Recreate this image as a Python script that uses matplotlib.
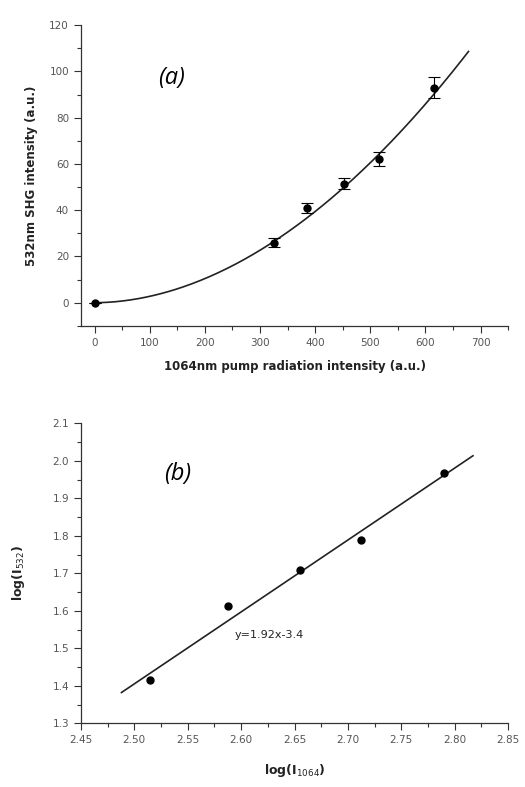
import numpy as np
import matplotlib.pyplot as plt
from matplotlib.ticker import MultipleLocator

# panel (a): SHG intensity vs pump intensity
pump = [0, 325, 385, 452, 515, 615]
shg = [0, 26, 41, 51.5, 62, 93]
shg_err = [0, 2, 2, 2.5, 3, 4.5]

# panel (b): log-log data
log_pump = [2.515, 2.588, 2.655, 2.712, 2.790]
log_shg = [1.415, 1.612, 1.708, 1.790, 1.968]

# fit from the figure: log(I532) = 1.92 log(I1064) - 3.4
slope = 1.92
intercept = -3.4

fig = plt.figure(figsize=(5.25, 7.87), dpi=100)
ax1 = fig.add_axes([0.154, 0.586, 0.814, 0.382])
ax2 = fig.add_axes([0.154, 0.081, 0.814, 0.381])

tick_color = '#555555'

def style(ax):
    for s in ['top', 'right']:
        ax.spines[s].set_visible(False)
    for s in ['left', 'bottom']:
        ax.spines[s].set_color('#333333')
        ax.spines[s].set_linewidth(0.9)
    ax.tick_params(which='major', direction='out', length=5, width=0.8,
                   colors='#333333', labelcolor=tick_color, labelsize=7.5)
    ax.tick_params(which='minor', direction='out', length=3, width=0.8, colors='#333333')

# (a)
xs = np.linspace(0, 678, 300)
ax1.plot(xs, 10 ** intercept * xs ** slope, color='#222222', lw=1.2)
ax1.errorbar(pump, shg, yerr=shg_err, fmt='o', color='black', ms=5,
             elinewidth=0.8, capsize=4, capthick=0.8)
ax1.set_xlim(-25, 750)
ax1.set_ylim(-10, 120)
ax1.xaxis.set_major_locator(MultipleLocator(100))
ax1.xaxis.set_minor_locator(MultipleLocator(50))
ax1.yaxis.set_major_locator(MultipleLocator(20))
ax1.yaxis.set_minor_locator(MultipleLocator(10))
ax1.set_xticks(range(0, 701, 100))
style(ax1)
ax1.set_xlabel('1064nm pump radiation intensity (a.u.)', fontsize=8.5,
               fontweight='bold', color='#222222', labelpad=9)
ax1.set_ylabel('532nm SHG intensity (a.u.)', fontsize=8.5,
               fontweight='bold', color='#222222', labelpad=8)
ax1.text(140, 97, '(a)', fontsize=17, style='italic', family='Open Sans',
         ha='center', va='center')

# (b)
xl = np.array([2.488, 2.817])
ax2.plot(xl, slope * xl + intercept + 0.005, color='#222222', lw=1.2)
ax2.plot(log_pump, log_shg, 'o', color='black', ms=5)
ax2.set_xlim(2.45, 2.85)
ax2.set_ylim(1.3, 2.1)
ax2.xaxis.set_major_locator(MultipleLocator(0.05))
ax2.xaxis.set_minor_locator(MultipleLocator(0.025))
ax2.yaxis.set_major_locator(MultipleLocator(0.1))
ax2.yaxis.set_minor_locator(MultipleLocator(0.05))
ax2.xaxis.set_major_formatter(plt.FormatStrFormatter('%.2f'))
ax2.yaxis.set_major_formatter(plt.FormatStrFormatter('%.1f'))
style(ax2)
ax2.set_xlabel(r'log(I$_{1064}$)', fontsize=9, fontweight='bold',
               color='#222222', labelpad=12)
ax2.set_ylabel(r'log(I$_{532}$)', fontsize=9, fontweight='bold',
               color='#222222', labelpad=18)
ax2.text(2.541, 1.965, '(b)', fontsize=17, style='italic', family='Open Sans',
         ha='center', va='center')
ax2.text(2.594, 1.535, 'y=1.92x-3.4', fontsize=8, color='#222222',
         ha='left', va='center')

fig.savefig('out.png', dpi=100)
